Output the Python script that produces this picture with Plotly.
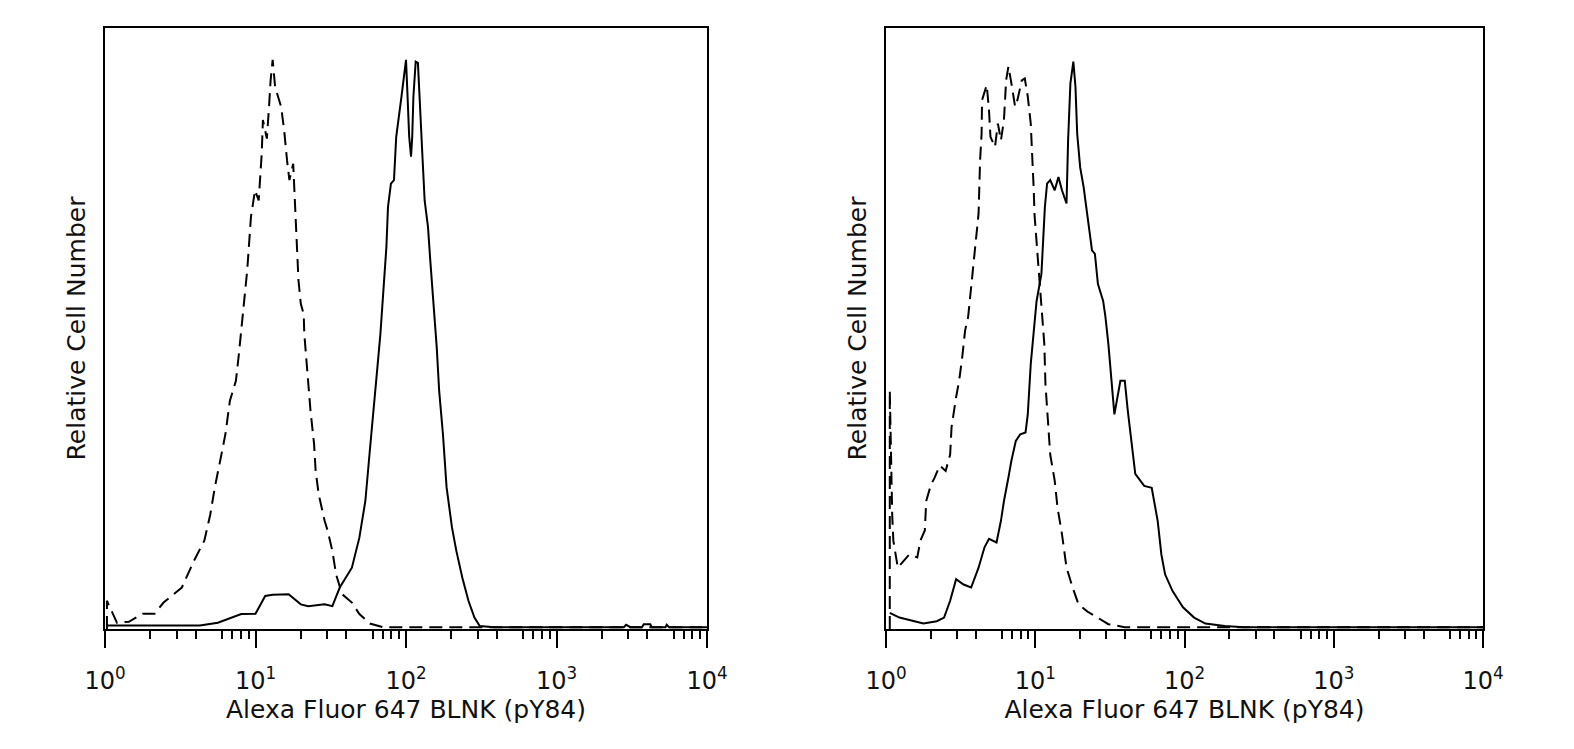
import plotly.graph_objects as go

# ---------------- data ----------------
# Left panel, dashed (isotype control)
left_ctrl_x = [1.03, 1.03, 1.2, 1.44, 1.78, 2.14, 2.45, 3.24, 3.89, 4.57, 5.01, 5.37, 5.89, 6.31,
               6.76, 7.41, 7.76, 8.13, 8.32, 8.81, 9.33, 9.93, 10.5, 11.0, 11.2, 11.9, 12.3, 12.6,
               13.0, 13.5, 14.8, 15.5, 16.2, 16.8, 17.8, 18.2, 18.6, 19.1, 19.3, 20.0, 20.9, 21.1,
               22.4, 23.2, 24.5, 25.1, 26.3, 28.8, 30.2, 32.4, 34.3, 37.6, 43.7, 49.0, 57.5, 70.8,
               100, 200, 389, 1000, 10000]
left_ctrl_y = [0, 4.7, 1.05, 1.2, 2.55, 2.55, 4.4, 6.9, 11.3, 14.7, 19.1, 23.6, 28.6, 32.4,
               38.0, 41.3, 45.8, 50.8, 53.6, 59.7, 68.6, 73.0, 71.3, 79.1, 84.7, 81.6, 86.9, 91.3,
               94.7, 90.2, 86.9, 83.0, 78.0, 74.7, 77.4, 71.8, 68.0, 62.4, 58.0, 54.1, 52.4, 49.1,
               40.8, 36.3, 30.8, 26.3, 22.4, 18.0, 16.3, 13.0, 9.1, 5.8, 4.4, 2.5, 0.9, 0.3,
               0.3, 0.3, 0.3, 0.3, 0.3]

# Left panel, solid (stained)
left_stain_x = [1.03, 4.27, 5.62, 7.08, 8.04, 10.0, 11.6, 13.0, 16.6, 20.0, 22.4, 28.8, 32.4, 36.3,
                43.7, 49.0, 53.7, 57.5, 61.0, 64.6, 67.6, 70.0, 72.4, 74.1, 75.9, 79.4, 83.2, 84.1,
                86.1, 93.3, 97.7, 100, 102, 105, 108, 110, 112, 116, 120, 123, 129, 133,
                140, 145, 151, 155, 160, 166, 176, 186, 202, 216, 237, 260, 285, 309,
                385, 2800, 2900, 3100, 3700, 3800, 4200, 4300, 5300, 5400, 5600, 10000]
left_stain_y = [0.6, 0.6, 1.05, 1.9, 2.5, 2.55, 5.5, 5.7, 5.8, 4.1, 3.8, 4.1, 3.8, 6.9,
                10.2, 15.2, 21.3, 29.7, 36.3, 43.6, 49.1, 54.7, 59.1, 63.6, 70.2, 74.1, 74.7, 77.4,
                81.9, 88.6, 93.0, 94.7, 89.7, 81.9, 78.6, 81.9, 88.6, 94.4, 94.2, 88.0, 78.0, 71.3,
                66.9, 61.3, 55.8, 51.3, 46.9, 39.7, 32.4, 23.6, 16.9, 13.0, 8.5, 4.7, 1.9, 0.5,
                0.3, 0.3, 0.7, 0.3, 0.3, 0.8, 0.8, 0.3, 0.3, 0.7, 0.3, 0.3]

# Right panel, dashed (isotype control)
right_ctrl_x = [1.06, 1.06, 1.10, 1.12, 1.2, 1.26, 1.43, 1.62, 1.70, 1.82, 1.86, 2.0, 2.11, 2.29,
                2.51, 2.69, 2.75, 2.95, 3.09, 3.24, 3.39, 3.55, 3.72, 3.98, 4.17, 4.27, 4.37, 4.40,
                4.73, 4.9, 5.01, 5.37, 5.62, 5.89, 6.17, 6.38, 6.61, 6.92, 7.33, 7.59, 8.13, 8.51,
                8.91, 9.33, 9.55, 9.77, 9.89, 10.1, 10.35, 10.7, 11.0, 11.5, 11.7, 12.3, 12.6, 13.5,
                14.1, 15.1, 16.2, 17.8, 19.5, 22.4, 26.0, 30.9, 39.8, 10000]
right_ctrl_y = [0, 39.7, 19.1, 14.7, 10.2, 10.8, 12.4, 11.9, 14.7, 16.4, 21.3, 24.0, 25.1, 27.2,
                26.3, 29.0, 33.6, 38.6, 41.3, 45.2, 49.7, 51.9, 56.9, 63.0, 69.1, 78.0, 82.4, 88.0,
                90.5, 86.3, 81.9, 80.2, 84.1, 81.3, 84.7, 91.3, 93.6, 90.8, 86.9, 88.0, 91.3, 91.6,
                88.6, 84.1, 79.1, 73.1, 68.9, 65.8, 61.3, 56.9, 52.4, 47.4, 40.8, 33.0, 29.0, 24.7,
                20.2, 15.8, 10.2, 6.9, 4.1, 2.9, 1.9, 0.8, 0.3, 0.3]

# Right panel, solid (stained)
right_stain_x = [1.06, 1.23, 1.48, 1.78, 2.19, 2.45, 2.69, 2.95, 3.31, 3.72, 4.17, 4.57, 4.9, 5.5,
                 5.89, 6.17, 6.61, 6.92, 7.41, 7.94, 8.61, 8.91, 9.33, 9.77, 10.2, 11.0, 11.2, 11.6,
                 12.0, 12.6, 13.5, 14.3, 15.1, 16.2, 16.6, 17.2, 18.0, 18.6, 19.1, 20.0, 21.1, 22.4,
                 24.0, 25.1, 26.3, 28.5, 29.5, 30.9, 32.4, 33.9, 37.2, 39.8, 41.7, 44.7, 46.8, 53.7,
                 60.3, 66.1, 70.0, 74.1, 83.2, 97.7, 116, 138, 186, 250, 10000]
right_stain_y = [2.7, 1.9, 1.4, 0.9, 1.3, 1.9, 4.7, 8.3, 7.4, 6.9, 10.2, 13.6, 15.0, 14.4,
                 18.0, 21.3, 25.2, 28.0, 31.3, 32.4, 32.7, 35.7, 44.1, 50.2, 54.5, 59.1, 63.6, 70.2,
                 74.1, 74.7, 73.0, 75.2, 73.0, 70.8, 81.3, 90.8, 94.4, 90.2, 82.4, 76.8, 73.5, 68.6,
                 63.0, 62.4, 57.4, 54.6, 52.0, 47.4, 41.8, 35.7, 41.3, 41.3, 36.3, 30.2, 25.8, 23.8,
                 23.5, 18.0, 12.4, 9.1, 6.3, 3.6, 1.9, 0.9, 0.5, 0.3, 0.3]

decade_vals = [1, 10, 100, 1000, 10000]
decade_text = ["10<sup>0</sup>", "10<sup>1</sup>", "10<sup>2</sup>", "10<sup>3</sup>", "10<sup>4</sup>"]
minor_vals = [m * d for d in [1, 10, 100, 1000] for m in [2, 3, 4, 6, 7, 8, 9]]
five_vals = [5, 50, 500, 5000]

x_title = "Alexa Fluor 647 BLNK (pY84)"
y_title = "Relative Cell Number"

# ---------------- figure ----------------
FONT = dict(family="DejaVu Sans, Liberation Sans, Arial, sans-serif", size=25, color="#111111")
TICKFONT = dict(family="DejaVu Sans, Liberation Sans, Arial, sans-serif", size=24, color="#111111")
W, H = 1574, 749

fig = go.Figure()

dash = "13px,7px"
fig.add_trace(go.Scatter(x=left_ctrl_x, y=left_ctrl_y, mode="lines", xaxis="x", yaxis="y",
                         line=dict(color="black", width=2, dash=dash), showlegend=False))
fig.add_trace(go.Scatter(x=left_stain_x, y=left_stain_y, mode="lines", xaxis="x", yaxis="y",
                         line=dict(color="black", width=2), showlegend=False))
fig.add_trace(go.Scatter(x=right_ctrl_x, y=right_ctrl_y, mode="lines", xaxis="x2", yaxis="y2",
                         line=dict(color="black", width=2, dash=dash), showlegend=False))
fig.add_trace(go.Scatter(x=right_stain_x, y=right_stain_y, mode="lines", xaxis="x2", yaxis="y2",
                         line=dict(color="black", width=2), showlegend=False))

ydom = [(H - 629) / H, (H - 28) / H]
left_dom = [105 / W, 707 / W]
right_dom = [886 / W, 1483 / W]


def xaxis_cfg(dom, anchor):
    return dict(
        type="log", range=[0, 4], domain=dom, anchor=anchor, automargin=False,
        tickmode="array", tickvals=decade_vals, ticktext=decade_text,
        ticks="outside", ticklen=17, tickwidth=2, tickcolor="black",
        showline=True, linecolor="black", linewidth=2, mirror=True,
        showgrid=False, zeroline=False,
        minor=dict(tickmode="array", tickvals=minor_vals, ticks="outside", ticklen=8,
                   tickwidth=2, tickcolor="black", showgrid=False),
        tickfont=TICKFONT, ticklabelstandoff=12,
        title=dict(text=x_title, font=FONT, standoff=2),
        fixedrange=True,
    )


def five_axis(overlay, anchor, dom):
    return dict(
        type="log", range=[0, 4], domain=dom, anchor=anchor, overlaying=overlay,
        automargin=False,
        tickmode="array", tickvals=five_vals, ticks="outside", ticklen=12, tickwidth=2,
        tickcolor="black", showticklabels=False, showline=False, showgrid=False,
        zeroline=False, side="bottom",
    )


def yaxis_cfg(anchor):
    return dict(
        range=[0, 100], domain=ydom, anchor=anchor, automargin=False,
        showticklabels=False, ticks="", showgrid=False, zeroline=False,
        showline=True, linecolor="black", linewidth=2, mirror=True,
        title=dict(text=y_title, font=FONT, standoff=10),
        fixedrange=True,
    )


fig.update_layout(
    width=W, height=H,
    margin=dict(l=0, r=0, t=0, b=0, autoexpand=False),
    paper_bgcolor="white", plot_bgcolor="white",
    font=FONT,
    xaxis=xaxis_cfg(left_dom, "y"),
    yaxis=yaxis_cfg("x"),
    xaxis2=xaxis_cfg(right_dom, "y2"),
    yaxis2=yaxis_cfg("x2"),
    xaxis3=five_axis("x", "y", left_dom),
    xaxis4=five_axis("x2", "y2", right_dom),
)

fig.write_html("out.html")
